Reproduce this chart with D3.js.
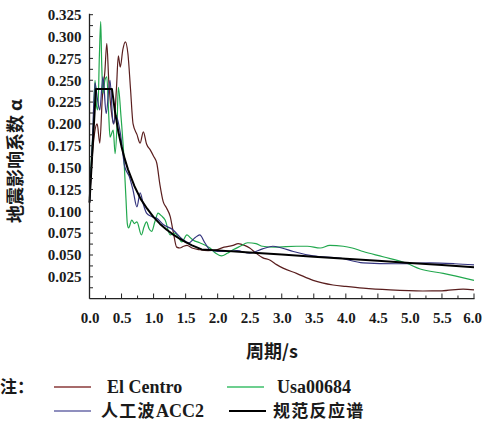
<!DOCTYPE html>
<html><head><meta charset="utf-8">
<script src="https://cdn.jsdelivr.net/npm/d3@7"></script>
<style>
html,body{margin:0;padding:0;background:#fff;}
svg{display:block;}
</style></head>
<body>
<svg id="chart" width="482" height="426"></svg>
<script>
// ---- data (period T in s, seismic influence coefficient alpha) ----
const xTicks = [0,0.5,1,1.5,2,2.5,3,3.5,4,4.5,5,5.5,6];
const yTicks = [0.025,0.05,0.075,0.1,0.125,0.15,0.175,0.2,0.225,0.25,0.275,0.3,0.325];

const elCentro = [[0,0.11],[0.04,0.16],[0.08,0.19],[0.12,0.2],[0.16,0.178],[0.2,0.23],[0.24,0.26],[0.27,0.292],[0.3,0.25],[0.34,0.215],[0.38,0.2],[0.42,0.24],[0.45,0.278],[0.48,0.265],[0.52,0.285],[0.56,0.294],[0.6,0.28],[0.64,0.24],[0.68,0.2],[0.74,0.188],[0.79,0.178],[0.84,0.191],[0.89,0.177],[0.95,0.17],[1.0,0.163],[1.05,0.155],[1.1,0.13],[1.15,0.111],[1.2,0.104],[1.26,0.094],[1.31,0.075],[1.36,0.059],[1.41,0.058],[1.47,0.06],[1.52,0.061],[1.6,0.058],[1.72,0.056],[1.85,0.055],[1.98,0.056],[2.1,0.059],[2.24,0.061],[2.32,0.063],[2.42,0.061],[2.5,0.058],[2.6,0.052],[2.7,0.047],[2.82,0.044],[2.92,0.039],[3.02,0.035],[3.23,0.029],[3.49,0.021],[3.8,0.0157],[4.0,0.014],[4.27,0.012],[4.69,0.010],[5.2,0.0088],[5.5,0.009],[5.83,0.011],[6.0,0.010]];

const usa00684 = [[0,0.115],[0.03,0.16],[0.06,0.2],[0.086,0.25],[0.11,0.22],[0.13,0.216],[0.155,0.28],[0.175,0.317],[0.19,0.27],[0.21,0.235],[0.24,0.25],[0.27,0.254],[0.3,0.21],[0.32,0.185],[0.37,0.193],[0.4,0.166],[0.43,0.2],[0.45,0.242],[0.49,0.21],[0.53,0.17],[0.57,0.113],[0.59,0.086],[0.61,0.081],[0.66,0.09],[0.7,0.086],[0.74,0.088],[0.81,0.073],[0.85,0.082],[0.89,0.088],[0.93,0.08],[0.97,0.077],[1.02,0.088],[1.07,0.098],[1.12,0.095],[1.18,0.09],[1.26,0.073],[1.33,0.075],[1.39,0.07],[1.44,0.065],[1.52,0.073],[1.57,0.07],[1.62,0.067],[1.72,0.064],[1.88,0.058],[1.97,0.052],[2.06,0.049],[2.15,0.052],[2.24,0.056],[2.35,0.06],[2.47,0.064],[2.6,0.063],[2.7,0.06],[2.9,0.059],[3.23,0.06],[3.4,0.06],[3.6,0.058],[3.75,0.061],[3.96,0.060],[4.1,0.058],[4.27,0.054],[4.58,0.048],[4.95,0.0405],[5.16,0.034],[5.52,0.029],[6.0,0.021]];

const acc2 = [[0,0.11],[0.04,0.17],[0.086,0.247],[0.12,0.23],[0.16,0.216],[0.21,0.254],[0.26,0.212],[0.32,0.25],[0.37,0.2],[0.41,0.21],[0.48,0.19],[0.55,0.151],[0.62,0.14],[0.68,0.124],[0.74,0.105],[0.79,0.121],[0.84,0.108],[0.89,0.098],[0.97,0.094],[1.05,0.092],[1.15,0.085],[1.3,0.079],[1.45,0.068],[1.55,0.064],[1.65,0.07],[1.72,0.073],[1.8,0.064],[1.88,0.056],[2.0,0.054],[2.14,0.054],[2.3,0.055],[2.5,0.052],[2.7,0.057],[2.86,0.06],[3.0,0.058],[3.18,0.054],[3.49,0.049],[3.9,0.0466],[4.27,0.041],[4.79,0.040],[5.31,0.041],[5.7,0.040],[6.0,0.0386]];

const codeSpectrum = [[0,0.11],[0.1,0.24],[0.35,0.24],[0.4,0.213],[0.45,0.191],[0.5,0.174],[0.55,0.16],[0.6,0.148],[0.7,0.129],[0.8,0.114],[0.9,0.103],[1.0,0.0933],[1.1,0.0856],[1.2,0.0792],[1.3,0.0737],[1.4,0.0689],[1.5,0.0648],[1.6,0.0611],[1.75,0.0564],[2.0,0.0553],[2.5,0.0529],[3.0,0.0505],[3.5,0.0481],[4.0,0.0457],[4.5,0.0433],[5.0,0.0409],[5.5,0.0385],[6.0,0.0361]];

// legend labels split into CJK part and Latin part
const seriesCjk = ["","","人工波","规范反应谱"];
const seriesLatin = ["El Centro","Usa00684","ACC2",""];
const seriesColors = ["#5a1e1e","#22a84e","#34347e","#000000"];
const legendColors = ["#8a3a3a","#3cbf6a","#6a6aa8","#000000"];

// ---- drawing ----
const svg = d3.select("#chart");
const x = d3.scaleLinear().domain([0,6]).range([89.5,474]);
const y = d3.scaleLinear().domain([0,0.325]).range([298.7,14.7]);
const serif = "'Liberation Serif','Times New Roman',serif";
const cjk = "'Noto Sans CJK SC','Liberation Serif',serif";
const txt = "#1a1a1a";

// curves
const datasets = [elCentro, usa00684, acc2, codeSpectrum];
const lineSmooth = d3.line().x(d=>x(d[0])).y(d=>y(d[1])).curve(d3.curveMonotoneX);
const lineStraight = d3.line().x(d=>x(d[0])).y(d=>y(d[1]));
datasets.forEach((ds,i)=>{
  svg.append("path").datum(ds)
    .attr("d", i===3 ? lineStraight : lineSmooth)
    .attr("fill","none")
    .attr("stroke",seriesColors[i])
    .attr("stroke-width", i===3 ? 2 : 1.2)
    .attr("stroke-linejoin","round");
});

// y axis
const yMinor = d3.range(0.0125,0.326,0.0125);
const yAxis = d3.axisLeft(y).tickValues(yTicks).tickFormat(d3.format(".3f")).tickSize(0).tickPadding(8);
const gy = svg.append("g").attr("transform","translate(89.5,0)").call(yAxis);
gy.select(".domain").remove();
gy.selectAll("text").attr("font-family",serif).attr("font-weight","bold").attr("font-size","15px").attr("fill",txt);
svg.append("g").selectAll("line").data(yMinor).join("line")
  .attr("x1",89.5).attr("x2",93).attr("y1",d=>y(d)).attr("y2",d=>y(d))
  .attr("stroke","#222").attr("stroke-width",1);
svg.append("line").attr("x1",89.5).attr("x2",89.5).attr("y1",y(0.325)-1).attr("y2",y(0)).attr("stroke","#222").attr("stroke-width",1.3);

// x axis
const xMinor = d3.range(0.25,6.01,0.25);
const xAxis = d3.axisBottom(x).tickValues(xTicks).tickFormat(d3.format(".1f")).tickSize(0).tickPadding(14);
const gx = svg.append("g").attr("transform","translate(0,298.7)").call(xAxis);
gx.select(".domain").remove();
gx.selectAll("text").attr("font-family",serif).attr("font-weight","bold").attr("font-size","15px").attr("fill",txt);
gx.selectAll(".tick").filter(d=>d===6).select("text").attr("text-anchor","end").attr("dx","7.5");
svg.append("g").selectAll("line").data(xMinor).join("line")
  .attr("x1",d=>x(d)).attr("x2",d=>x(d)).attr("y1",298.7).attr("y2",d=> (Math.abs(d*2-Math.round(d*2))<1e-6)?293.5:295.5)
  .attr("stroke","#222").attr("stroke-width",1);
svg.append("line").attr("x1",89.5).attr("x2",474.5).attr("y1",298.7).attr("y2",298.7).attr("stroke","#222").attr("stroke-width",1.3);

// axis titles
svg.append("text").attr("transform","translate(22,161) rotate(-90)")
  .attr("text-anchor","middle").attr("font-family",cjk).attr("font-size","18px").attr("font-weight","bold").attr("fill",txt)
  .text("地震影响系数 α");
svg.append("text").attr("x",272).attr("y",358).attr("text-anchor","middle")
  .attr("font-family",cjk).attr("font-size","18px").attr("font-weight","bold").attr("fill",txt)
  .text("周期/s");

// legend
svg.append("text").attr("x",0).attr("y",393).attr("font-family",cjk).attr("font-size","17px").attr("font-weight","bold").attr("fill",txt).text("注：");
const legPos = [[54,387,107],[227,387,277],[54,411,101],[229,411,273]];
seriesLatin.forEach((n,i)=>{
  const p = legPos[i];
  svg.append("line").attr("x1",p[0]).attr("x2",p[0]+37).attr("y1",p[1]).attr("y2",p[1])
    .attr("stroke",legendColors[i]).attr("stroke-width", i===3?2:1.6);
  const t = svg.append("text").attr("x",p[2]).attr("y",p[1]+6).attr("font-weight","bold").attr("fill",txt);
  if (seriesCjk[i]) t.append("tspan").attr("font-family",cjk).attr("font-size","17px").attr("letter-spacing","1.3").text(seriesCjk[i]);
  if (n) t.append("tspan").attr("font-family",serif).attr("font-size","18px").text(n);
});
</script>
</body></html>
